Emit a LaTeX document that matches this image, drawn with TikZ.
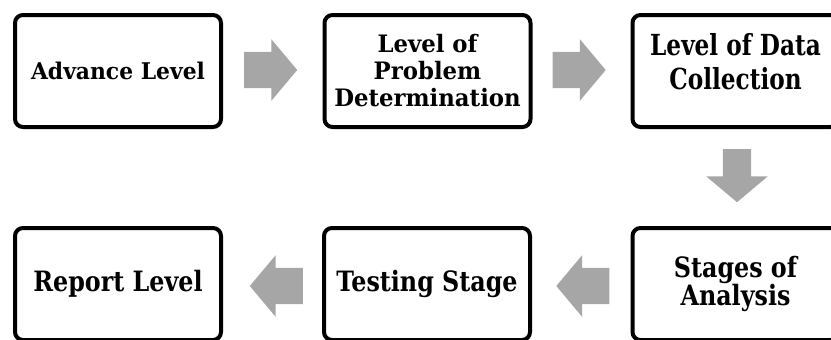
\documentclass[tikz,border=0pt]{standalone}
\usepackage{fontspec}
\newfontfamily\widefont[FakeStretch=0.95]{DejaVu Serif Bold}
\newfontfamily\slimfont[FakeStretch=0.85]{DejaVu Serif Bold}
\newfontfamily\slimmerfont[FakeStretch=0.8]{DejaVu Serif Bold}
\usetikzlibrary{positioning,calc,shapes.arrows}
\definecolor{arrowgray}{RGB}{166,166,166}

\begin{document}
\begin{tikzpicture}[x=1pt,y=-1pt,
  stage/.style={draw=black,line width=4pt,rounded corners=8pt,fill=white,
    minimum width=206pt,minimum height=112pt,align=center,inner sep=0pt,
    font=\widefont\fontsize{23}{27}\selectfont},
  lowstage/.style={stage,font=\slimfont\fontsize{28}{28}\selectfont},
  across/.style={single arrow,draw=none,fill=arrowgray,inner xsep=0pt,
    inner ysep=18pt,minimum height=53pt,single arrow head extend=12.5pt,
    single arrow tip angle=100,anchor=tail},
  back/.style={across,shape border rotate=180},
  downward/.style={across,shape border rotate=270,inner ysep=0pt,
    inner xsep=14pt,single arrow head extend=16.5pt}]

\useasboundingbox (0,0) rectangle (831,340);

% Top row, read left to right.
\node[stage] (advance) at (118,71) {Advance Level};
\node[stage,font=\widefont\fontsize{24}{27}\selectfont]
  (problem) at (427.5,71) {Level of\\Problem\\Determination};
\node[stage,font=\slimmerfont\fontsize{29}{34}\selectfont,text depth=20pt]
  (collect) at (735.5,71) {Level of Data\\Collection};

% Bottom row, read right to left; the page edge cuts these boxes.
\node[lowstage] (analysis) at (735.5,284) {Stages of\\Analysis};
\node[lowstage] (testing) at (427,284) {Testing Stage};
\node[lowstage] (report) at (118,284) {Report Level};

% Block arrows start a short gap after the stage they leave.
\node[across] (step1) at ([xshift=21pt,yshift=1pt]advance.east) {};
\node[across] (step2) at ([xshift=20pt,yshift=1pt]problem.east) {};
\node[downward] (step3) at ([xshift=1.5pt,yshift=-20pt]collect.south) {};
\node[back] (step4) at ([xshift=-21pt,yshift=-2pt]analysis.west) {};
\node[back] (step5) at ([xshift=-19pt,yshift=-2pt]testing.west) {};
\end{tikzpicture}
\end{document}
